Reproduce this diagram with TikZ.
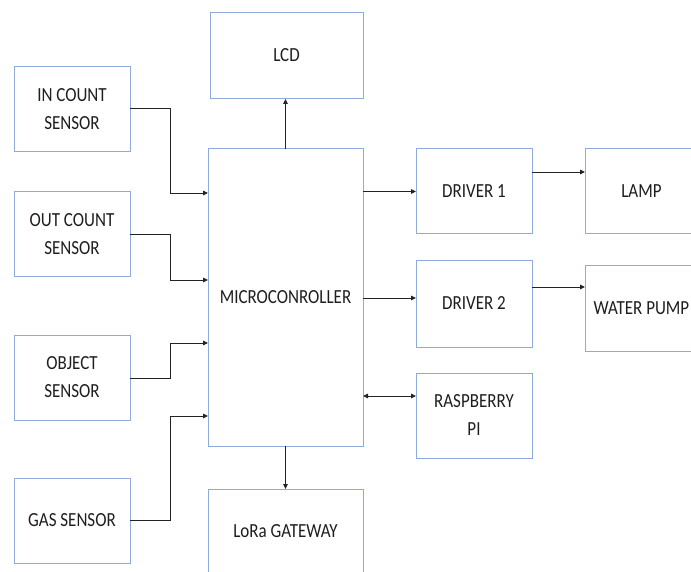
\documentclass[tikz,border=0pt]{standalone}
\usepackage{fontspec}
\setmainfont{Carlito}
\usetikzlibrary{arrows.meta}
\definecolor{boxc}{RGB}{143,170,220}
\definecolor{txtc}{RGB}{30,30,30}
\definecolor{arrc}{RGB}{35,35,35}
\newcommand{\lbl}[1]{\scalebox{0.85}[1]{\begin{tabular}{@{}c@{}}#1\end{tabular}}}
\begin{document}
\begin{tikzpicture}[x=1pt,y=1pt,
  blk/.style={draw=boxc, line width=1pt, minimum width=116pt, minimum height=85pt,
    inner sep=0pt, outer sep=0pt, font=\fontsize{20}{28}\selectfont, text=txtc},
  arr/.style={draw=arrc, line width=0.9pt, -{Triangle[length=5pt,width=4.5pt]}},
  darr/.style={draw=arrc, line width=0.9pt, {Triangle[length=5pt,width=4.5pt]}-{Triangle[length=5pt,width=4.5pt]}}]
\useasboundingbox (0,0) rectangle (691,-572);
\clip (0,0) rectangle (691,-572);
% sensors
\node[blk] (in)  at (72,-109.5) {\lbl{IN COUNT\\SENSOR}};
\node[blk] (out) at (72,-234.5) {\lbl{OUT COUNT\\SENSOR}};
\node[blk] (obj) at (72,-377.5) {\lbl{OBJECT\\SENSOR}};
\node[blk] (gas) at (72,-520.5) {\lbl{GAS SENSOR}};
% centre column
\node[blk, minimum width=153pt, minimum height=86pt] (lcd) at (286.5,-56) {\lbl{LCD}};
\node[blk, minimum width=155pt, minimum height=297pt] (mc) at (285.5,-297.5) {\lbl{MICROCONROLLER}};
\node[blk, minimum width=155pt, minimum height=86pt] (lora) at (285.5,-532) {\lbl{LoRa GATEWAY}};
% drivers
\node[blk] (d1)  at (474,-191.5) {\lbl{DRIVER 1}};
\node[blk, minimum height=86pt] (d2)  at (474,-304) {\lbl{DRIVER 2}};
\node[blk] (rpi) at (474,-415.5) {\lbl{RASPBERRY\\PI}};
% loads
\node[blk, minimum width=113pt] (lamp) at (641.5,-191.5) {\lbl{LAMP}};
\node[blk, minimum width=113pt] (pump) at (641.5,-308.5) {\lbl{WATER PUMP}};
% coordinates
\coordinate (inA) at (130,-108);  \coordinate (inB) at (170,-108);  \coordinate (inC) at (170,-193);  \coordinate (inD) at (208,-193);
\coordinate (outA) at (130,-234); \coordinate (outB) at (170,-234); \coordinate (outC) at (170,-280); \coordinate (outD) at (208,-280);
\coordinate (objA) at (130,-378); \coordinate (objB) at (170,-378); \coordinate (objC) at (170,-343); \coordinate (objD) at (208,-343);
\coordinate (gasA) at (130,-520); \coordinate (gasB) at (170,-520); \coordinate (gasC) at (170,-416); \coordinate (gasD) at (208,-416);
\coordinate (mcd2) at (363,-298); \coordinate (d2in) at (416,-298);
\coordinate (mcr) at (363,-396);  \coordinate (rin) at (416,-396);
\coordinate (d1o) at (532,-172);  \coordinate (lin) at (585,-172);
\coordinate (d2o) at (532,-287);  \coordinate (pin) at (585,-287);
% connectors
\draw[arr] (inA) -- (inB) -- (inC) -- (inD);
\draw[arr] (outA) -- (outB) -- (outC) -- (outD);
\draw[arr] (objA) -- (objB) -- (objC) -- (objD);
\draw[arr] (gasA) -- (gasB) -- (gasC) -- (gasD);
\draw[arr, line width=1.2pt] (mc.north) -- (mc.north |- lcd.south);
\draw[arr] (mc.south) -- (mc.south |- lora.north);
\draw[arr] (mc.east |- d1.west) -- (d1.west);
\draw[arr] (mcd2) -- (d2in);
\draw[darr] (mcr) -- (rin);
\draw[arr] (d1o) -- (lin);
\draw[arr] (d2o) -- (pin);
\end{tikzpicture}
\end{document}
